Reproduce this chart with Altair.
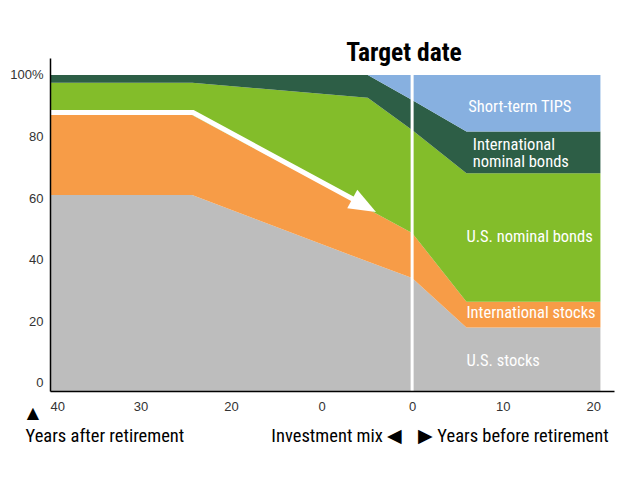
import altair as alt
import pandas as pd

# ---- data ----
years = [-40, -24.3, -4.9, 0, 6, 20.8]          # years relative to target date
us_stocks = [61, 61, 39.4, 34.1, 18, 18]
intl_stocks = [26, 26, 17.1, 14.6, 8.4, 8.4]
us_bonds = [10.5, 10.5, 36.1, 33.4, 41.7, 41.7]
intl_bonds = [2.5, 2.5, 7.4, 9.8, 13.5, 13.5]
tips = [0, 0, 0, 8.1, 18.4, 18.4]

series = ["U.S. stocks", "International stocks", "U.S. nominal bonds",
          "International nominal bonds", "Short-term TIPS"]
colors = ["#bdbdbd", "#f79c47", "#83bd2a", "#2d5e46", "#87b0e0"]

x_ticks = [-40, -30, -20, -10, 0, 10, 20]
x_tick_labels = ["40", "30", "20", "0", "0", "10", "20"]
y_ticks = [0, 20, 40, 60, 80, 100]

# arrow path (data units) and arrowhead
arrow_x = [-40, -24.2, -6.3]
arrow_y = [87.8, 87.8, 59.3]
head_x = [-5.3]
head_y = [57.6]

# in-area labels
area_label_text = ["Short-term TIPS", "International\nnominal bonds",
                   "U.S. nominal bonds", "International stocks", "U.S. stocks"]
area_label_x = [6.2, 6.7, 6.0, 6.0, 6.0]
area_label_y = [89.6, 77.3, 47.4, 22.7, 7.1]

X_DOMAIN = [-40, 22.3]
Y_DOMAIN = [-2.6, 105.5]

# ---- build tables ----
rows = []
for i, s in enumerate(series):
    vals = [us_stocks, intl_stocks, us_bonds, intl_bonds, tips][i]
    for x, v in zip(years, vals):
        rows.append({"x": x, "series": s, "value": v, "order": i})
df = pd.DataFrame(rows)

xscale = alt.Scale(domain=X_DOMAIN, nice=False, zero=False)
yscale = alt.Scale(domain=Y_DOMAIN, nice=False, zero=False)

label_expr = " : ".join(
    [f"datum.value == {v} ? '{l}'" for v, l in zip(x_ticks, x_tick_labels)]
) + " : ''"

x_axis = alt.Axis(values=x_ticks, labelExpr=label_expr, ticks=False, grid=False,
                  domainColor="black", domainWidth=1.5, labelFont="Liberation Sans",
                  labelFontSize=13, labelColor="#333", labelPadding=9, title=None,
                  zindex=1)
y_axis = alt.Axis(values=y_ticks, labelExpr="datum.value == 100 ? '100%' : datum.label",
                  ticks=False, grid=False, domainColor="black", domainWidth=1.5,
                  labelFont="Liberation Sans", labelFontSize=13, labelColor="#333",
                  labelPadding=7, title=None, zindex=1)

areas = alt.Chart(df).transform_stack(
    stack="value", groupby=["x"], as_=["lo", "hi"],
    sort=[alt.SortField("order", order="ascending")]
).transform_calculate(
    lo2=f"datum.lo <= 0 ? {Y_DOMAIN[0]} : datum.lo"
).mark_area(interpolate="linear").encode(
    x=alt.X("x:Q", scale=xscale, axis=x_axis),
    y=alt.Y("hi:Q", scale=yscale, axis=y_axis),
    y2="lo2:Q",
    color=alt.Color("series:N", scale=alt.Scale(domain=series, range=colors), legend=None),
    order="order:Q",
)

rule = alt.Chart(pd.DataFrame({"x": [0], "y": [100], "y2": [Y_DOMAIN[0]]})).mark_rule(
    color="white", strokeWidth=3
).encode(x=alt.X("x:Q", scale=xscale), y=alt.Y("y:Q", scale=yscale), y2="y2:Q")

arrow = alt.Chart(pd.DataFrame({"x": arrow_x, "y": arrow_y, "o": [0, 1, 2]})).mark_line(
    color="white", strokeWidth=5, strokeJoin="miter"
).encode(x=alt.X("x:Q", scale=xscale), y=alt.Y("y:Q", scale=yscale), order="o:Q")

head = alt.Chart(pd.DataFrame({"x": head_x, "y": head_y})).mark_point(
    shape="M1,0 L-1,-0.78 L-1,0.78 Z", filled=True, color="white", opacity=1,
    size=729, angle=28.5, strokeWidth=0
).encode(x=alt.X("x:Q", scale=xscale), y=alt.Y("y:Q", scale=yscale))

COND = "Roboto Condensed, Roboto, sans-serif"

labels = alt.Chart(pd.DataFrame({"x": area_label_x, "y": area_label_y,
                                 "t": area_label_text})).mark_text(
    align="left", baseline="middle", color="white", font=COND, fontSize=16.5,
    lineBreak="\n", lineHeight=17
).encode(x=alt.X("x:Q", scale=xscale), y=alt.Y("y:Q", scale=yscale), text="t:N")

title = alt.Chart(pd.DataFrame({"x": [-0.9], "y": [107.1], "t": ["Target date"]})).mark_text(
    align="center", baseline="middle", color="black", font=COND, fontSize=25.5,
    fontWeight="bold"
).encode(x=alt.X("x:Q", scale=xscale), y=alt.Y("y:Q", scale=yscale), text="t:N")

bottom_left = alt.Chart(pd.DataFrame({"x": [-42.7], "y": [-17.2],
                                      "t": ["Years after retirement"]})).mark_text(
    align="left", baseline="middle", color="black", font=COND, fontSize=18.5
).encode(x=alt.X("x:Q", scale=xscale), y=alt.Y("y:Q", scale=yscale), text="t:N")

bottom_mid = alt.Chart(pd.DataFrame({"x": [-1.1], "y": [-17.2],
                                     "t": ["Investment mix \u25c0"]})).mark_text(
    align="right", baseline="middle", color="black", font=COND, fontSize=18.5
).encode(x=alt.X("x:Q", scale=xscale), y=alt.Y("y:Q", scale=yscale), text="t:N")

bottom_right = alt.Chart(pd.DataFrame({"x": [0.66], "y": [-17.2],
                                       "t": ["\u25b6 Years before retirement"]})).mark_text(
    align="left", baseline="middle", color="black", font=COND, fontSize=18.5
).encode(x=alt.X("x:Q", scale=xscale), y=alt.Y("y:Q", scale=yscale), text="t:N")

tri = alt.Chart(pd.DataFrame({"x": [-41.9], "y": [-9.7], "t": ["\u25b2"]})).mark_text(
    align="center", baseline="middle", color="black", font="DejaVu Sans", fontSize=16
).encode(x=alt.X("x:Q", scale=xscale), y=alt.Y("y:Q", scale=yscale), text="t:N")

chart = alt.layer(areas, rule, arrow, head, labels, title,
                  bottom_left, bottom_mid, bottom_right, tri).properties(
    width=564, height=333,
    autosize=alt.AutoSizeParams(type="none"),
    padding={"left": 42, "top": 50, "right": 10, "bottom": 80},
    background="white",
).configure_view(stroke=None)

chart.save("out.html", embed_options={"renderer": "svg", "actions": False})
